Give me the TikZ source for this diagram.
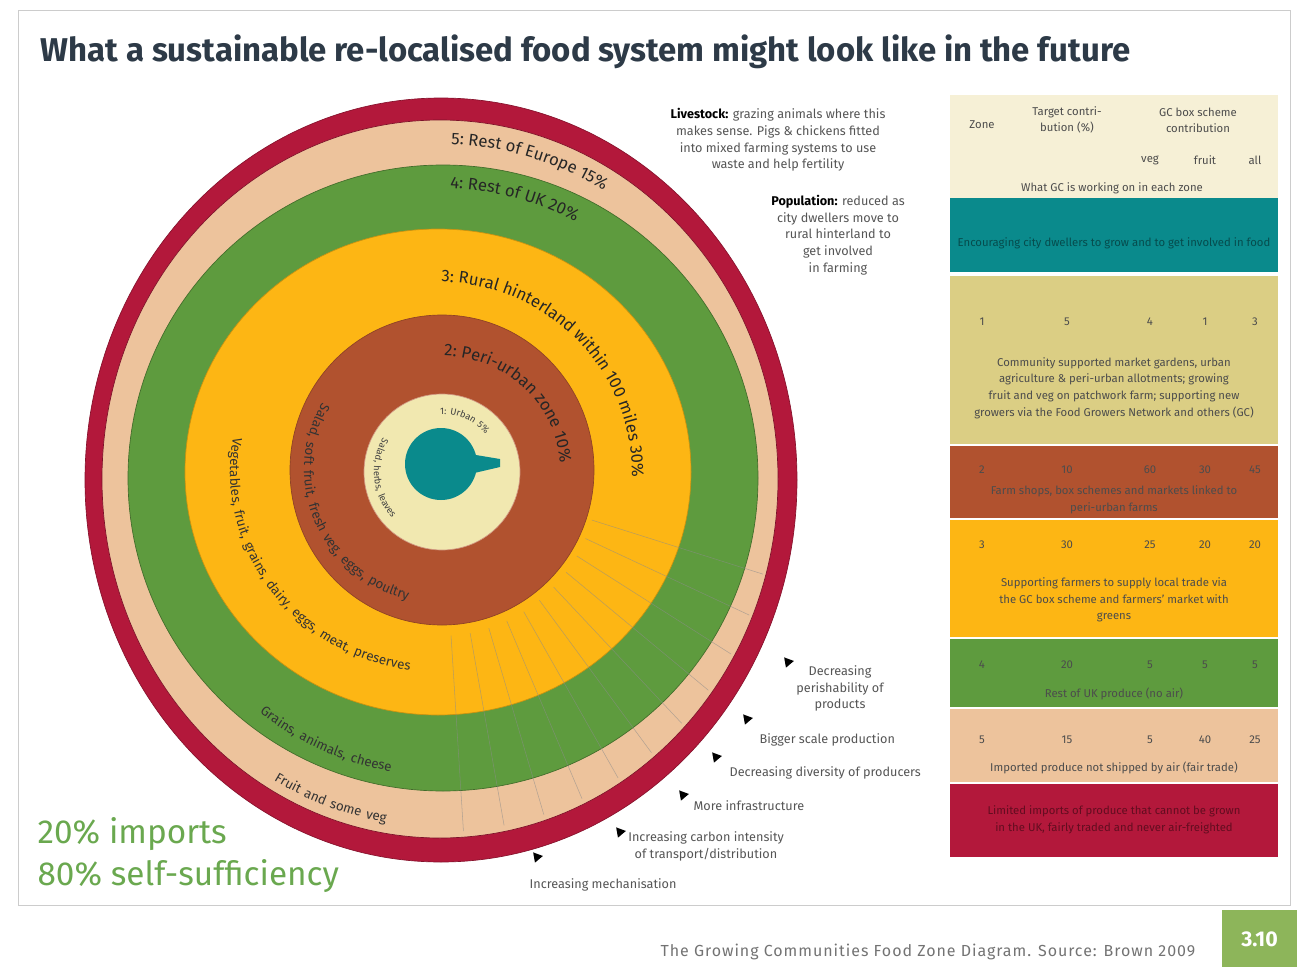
\documentclass[tikz,border=0pt]{standalone}
\usepackage{fontspec}
\setmainfont{Fira Sans}
\usepackage{xcolor}
\usepackage{tikz}
\usetikzlibrary{positioning,decorations.text,shapes.geometric}

\definecolor{zoneRed}{HTML}{B3183B}
\definecolor{zoneTan}{HTML}{EDC39C}
\definecolor{zoneGreen}{HTML}{5E9B3E}
\definecolor{zoneGold}{HTML}{FDB614}
\definecolor{zoneBrown}{HTML}{B1522F}
\definecolor{zonePale}{HTML}{F1E8B0}
\definecolor{zoneTeal}{HTML}{0A8A8C}
\definecolor{zoneKhaki}{HTML}{DBCE84}
\definecolor{headCream}{HTML}{F6F0D6}
\definecolor{titleInk}{HTML}{2D3A47}
\definecolor{noteInk}{HTML}{555555}
\definecolor{bigGreen}{HTML}{6AA84F}
\definecolor{pageGreen}{HTML}{8DB55A}

\newcommand\zonefont{\fontsize{12.5}{14}\selectfont}
\newcommand\ringfont{\fontsize{10}{12}\selectfont\addfontfeatures{LetterSpace=12}}
\newcommand\smallringfont{\fontsize{7}{8}\selectfont\addfontfeatures{LetterSpace=12}}

\begin{document}
\begin{tikzpicture}[
    x=0.75pt, y=-0.75pt,
    font=\fontsize{9.5}{12.5}\selectfont,
    note/.style={text=noteInk, align=center, inner sep=1pt},
    cell/.style={text=black!70, inner sep=1pt, font=\fontsize{8.5}{12}\selectfont},
    rowtext/.style={text=black!70, align=center, inner sep=1pt, font=\fontsize{8.5}{12.5}\selectfont},
    marker/.style={regular polygon, regular polygon sides=3, fill=black, inner sep=0pt, minimum size=9pt, rotate=40},
    zonename/.style={decorate, decoration={text along path, text color=black!85, text={|\zonefont|#1}}},
    ringtext/.style={decorate, decoration={text along path, text color=black!80, text={|\ringfont|#1}}},
    smallring/.style={decorate, decoration={text along path, text color=black!75, text={|\smallringfont|#1}}},
    spoke/.style={black!45, line width=0.4pt, opacity=0.6},
    zoneedge/.style={line width=0.5pt},
    bigfig/.style={text=bigGreen, font=\fontsize{25}{28}\selectfont, inner sep=1pt}
]
\useasboundingbox (0,0) rectangle (1297,967);

% frame and title
\draw[black!20, line width=0.6pt] (18,10) rectangle (1290,905);
\node[anchor=west, text=titleInk, font=\bfseries\fontsize{24.7}{28}\selectfont] (title) at (36,52)
    {What a sustainable re-localised food system might look like in the future};

% the food zones, outside in
\coordinate (hub) at (440,476);
\filldraw[zoneRed, draw=zoneRed!75!black, zoneedge] (441,480) ellipse[x radius=356, y radius=382];
\filldraw[zoneTan, draw=zoneRed!70!black, zoneedge] (440,479) ellipse[x radius=338, y radius=359];
\filldraw[zoneGreen, draw=zoneGreen!70!black, zoneedge] (443,478) ellipse[x radius=315, y radius=313];
\filldraw[zoneGold, draw=zoneGold!80!black, zoneedge] (438,472) ellipse[x radius=253, y radius=243];
\filldraw[zoneBrown, draw=zoneBrown!80!black, zoneedge] (442,470) ellipse[x radius=152, y radius=155];
\filldraw[zonePale, draw=zoneBrown!60!white, zoneedge] (442,472) circle[radius=78];
\fill[zoneTeal] (441,464) circle[radius=36];
\fill[zoneTeal] (470,454) -- (500,459) -- (500,467) -- (470,474) -- cycle;

% divisions in the lower right
\foreach \a in {16,23,...,86}
  \draw[spoke] ([shift={(\a:158 and 160)}]hub) -- ([shift={(\a:336 and 356)}]hub);

% zone names along the rings
\path[zonename={5: Rest of Europe 15{\%}}] (hub) ++(-88:320 and 332) arc[start angle=-88, end angle=-38, x radius=320, y radius=332];
\path[zonename={4: Rest of UK 20{\%}}] (hub) ++(-88:288 and 288) arc[start angle=-88, end angle=-45, x radius=288, y radius=288];
\path[zonename={3: Rural hinterland within 100 miles 30{\%}}] (438,474) ++(-89:194 and 192) arc[start angle=-89, end angle=22, x radius=194, y radius=192];
\path[zonename={2: Peri-urban zone 10{\%}}] (442,470) ++(-89:118 and 114) arc[start angle=-89, end angle=15, x radius=118, y radius=114];
\path[smallring={1: Urban 5{\%}}] (442,470) ++(-92:56 and 56) arc[start angle=-92, end angle=30, x radius=56, y radius=56];

% what each zone grows
\path[ringtext={Vegetables, fruit, grains, dairy, eggs, meat, preserves}] (438,472) ++(-170:208 and 200) arc[start angle=-170, end angle=-285, x radius=208, y radius=200];
\path[ringtext={Salad, soft fruit, fresh veg, eggs, poultry}] (442,470) ++(-150:138 and 134) arc[start angle=-150, end angle=-285, x radius=138, y radius=134];
\path[ringtext={Grains, animals, cheese}] (443,478) ++(-232:298 and 298) arc[start angle=-232, end angle=-280, x radius=298, y radius=298];
\path[ringtext={Fruit and some veg}] (440,479) ++(-240:332 and 348) arc[start angle=-240, end angle=-280, x radius=332, y radius=348];
\path[smallring={Salad, herbs, leaves}] (442,472) ++(-150:68 and 68) arc[start angle=-150, end angle=-290, x radius=68, y radius=68];

% notes on the top right
\node[note] (livestock) at (778,140) {\textbf{\color{black}Livestock:} grazing animals where this\\makes sense. Pigs \& chickens fitted\\into mixed farming systems to use\\waste and help fertility};
\node[note] (population) at (838,235) {\textbf{\color{black}Population:} reduced as\\city dwellers move to\\rural hinterland to\\get involved\\in farming};

% trends across the zones
\node[marker] (m1) at (788,662) {};
\node[note, anchor=north] (n1) at ([shift={(52,2)}]m1) {Decreasing\\perishability of\\products};
\node[marker] (m2) at (747,719) {};
\node[note, anchor=west] (n2) at ([shift={(11,21)}]m2) {Bigger scale production};
\node[marker] (m3) at (716,757) {};
\node[note, anchor=west] (n3) at ([shift={(12,16)}]m3) {Decreasing diversity of producers};
\node[marker] (m4) at (683,795) {};
\node[note, anchor=west] (n4) at ([shift={(9,11)}]m4) {More infrastructure};
\node[marker] (m5) at (620,832) {};
\node[note, anchor=north] (n5) at ([shift={(86,-2)}]m5) {Increasing carbon intensity\\of transport/distribution};
\node[marker] (m6) at (537,857) {};
\node[note, anchor=west] (n6) at ([shift={(-9,28)}]m6) {Increasing mechanisation};

% self-sufficiency figures
\node[bigfig, anchor=west] (imports) at (36,834) {20\% imports};
\node[bigfig, below=4pt of imports.south west, anchor=north west] (selfsuff) {80\% self-sufficiency};

% table of zones
\fill[headCream] (950,95) rectangle (1278,198);
\fill[zoneTeal] (950,198) rectangle (1278,272);
\fill[zoneKhaki] (950,276) rectangle (1278,444);
\fill[zoneBrown] (950,446) rectangle (1278,518);
\fill[zoneGold] (950,520) rectangle (1278,637);
\fill[zoneGreen] (950,639) rectangle (1278,707);
\fill[zoneTan] (950,709) rectangle (1278,782);
\fill[zoneRed] (950,784) rectangle (1278,857);

\node[cell] (hzone) at (982,125) {Zone};
\node[cell, align=center] (htarget) at (1067,120) {Target contri-\\bution (\%)};
\node[cell, align=center] (hgc) at (1198,120) {GC box scheme\\contribution};
\node[cell] (hveg) at (1150,160) {veg};
\node[cell] (hfruit) at (1205,160) {fruit};
\node[cell] (hall) at (1255,160) {all};
\node[cell] (hwork) at (1112,188) {What GC is working on in each zone};

\foreach \z/\yy/\tg/\vg/\fr/\al in {1/322/5/4/1/3, 2/470/10/60/30/45, 3/545/30/25/20/20, 4/665/20/5/5/5, 5/740/15/5/40/25}{
  \node[cell] (zone\z) at (982,\yy) {\z};
  \node[cell] (target\z) at (1067,\yy) {\tg};
  \node[cell] (veg\z) at (1150,\yy) {\vg};
  \node[cell] (fruit\z) at (1205,\yy) {\fr};
  \node[cell] (all\z) at (1255,\yy) {\al};
}

\node[rowtext, text=zoneTeal!55!black] (work0) at (1114,243) {Encouraging city dwellers to grow and to get involved in food};
\node[rowtext] (work1) at (1114,388) {Community supported market gardens, urban\\agriculture \& peri-urban allotments; growing\\fruit and veg on patchwork farm; supporting new\\growers via the Food Growers Network and others (GC)};
\node[rowtext] (work2) at (1114,500) {Farm shops, box schemes and markets linked to\\peri-urban farms};
\node[rowtext] (work3) at (1114,600) {Supporting farmers to supply local trade via\\the GC box scheme and farmers' market with\\greens};
\node[rowtext] (work4) at (1114,694) {Rest of UK produce (no air)};
\node[rowtext] (work5) at (1114,768) {Imported produce not shipped by air (fair trade)};
\node[rowtext, text=zoneRed!55!black] (work6) at (1114,820) {Limited imports of produce that cannot be grown\\in the UK, fairly traded and never air-freighted};

% caption and page number
\node[anchor=east, text=black!55, font=\fontsize{12}{14}\selectfont\addfontfeatures{LetterSpace=6}] (caption) at (1200,952) {The Growing Communities Food Zone Diagram. Source: Brown 2009};
\node[fill=pageGreen, text=white, font=\bfseries\fontsize{16}{18}\selectfont, minimum width=56pt, minimum height=44pt, anchor=north west] (pageno) at (1222,910) {3.10};

\end{tikzpicture}
\end{document}
